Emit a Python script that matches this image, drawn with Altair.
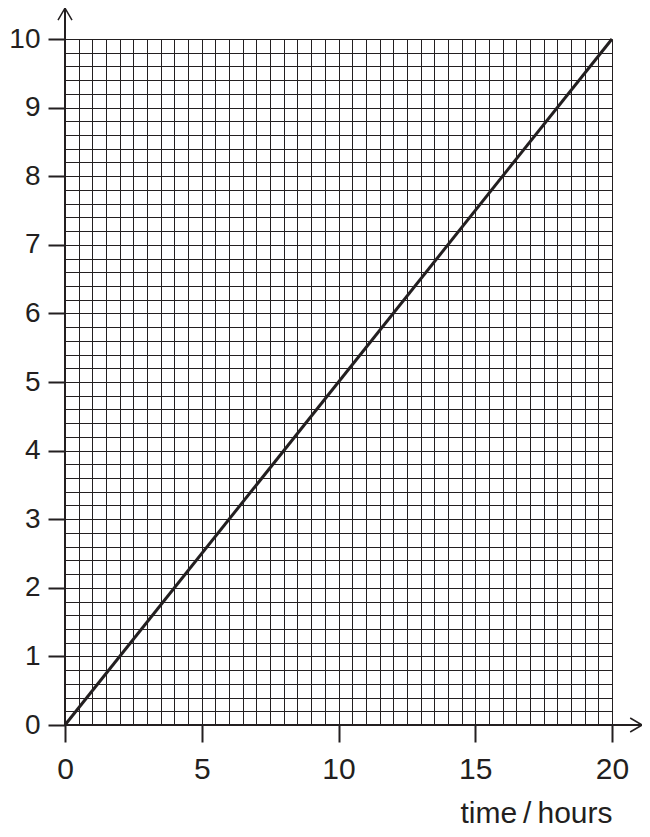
import altair as alt
import pandas as pd

# --- data ---
time_hours = [0, 20]
values = [0, 10]

x_grid = [i * 0.5 for i in range(41)]          # grid every 0.5 h
y_grid = [round(i * 0.2, 1) for i in range(51)]  # grid every 0.2

x_arrow_end = 21.1   # axis arrow tip beyond plot (data units)
y_arrow_end = 10.45

INK = "#231f20"
FONT = "Liberation Sans"

line_df = pd.DataFrame({"t": time_hours, "v": values})

x_scale = alt.Scale(domain=[0, 20], nice=False, zero=False)
y_scale = alt.Scale(domain=[0, 10], nice=False, zero=False)

x_axis = alt.Axis(
    values=x_grid,
    grid=True, gridColor=INK, gridWidth=1, gridOpacity=1,
    domain=False,
    ticks=True, tickSize=17, tickWidth=2, tickColor=INK,
    tickOpacity={"condition": {"test": "datum.value % 5 === 0", "value": 1}, "value": 0},
    labelExpr="datum.value % 5 === 0 ? '' + datum.value : ''",
    labelOverlap=False, labelFlush=False, labelBound=False,
    labelFont=FONT, labelFontSize=30, labelColor=INK, labelPadding=12,
    title="time\u2009/\u2009hours", titleFont=FONT, titleFontSize=30, titleFontWeight="normal",
    titleColor=INK, titleAnchor="end", titleAlign="right", titleBaseline="alphabetic",
    titleX=547, titleY=97,
)
y_axis = alt.Axis(
    values=y_grid,
    grid=True, gridColor=INK, gridWidth=1, gridOpacity=1,
    domain=False,
    ticks=True, tickSize=17, tickWidth=2, tickColor=INK,
    tickOpacity={"condition": {"test": "datum.value % 1 === 0", "value": 1}, "value": 0},
    labelExpr="datum.value % 1 === 0 ? '' + datum.value : ''",
    labelOverlap=False, labelFlush=False, labelBound=False,
    labelFont=FONT, labelFontSize=28, labelColor=INK, labelPadding=8,
    title=None,
)

line = alt.Chart(line_df).mark_line(color=INK, strokeWidth=3).encode(
    x=alt.X("t:Q", scale=x_scale, axis=x_axis),
    y=alt.Y("v:Q", scale=y_scale, axis=y_axis),
)

yline_df = pd.DataFrame({"x": [0], "y1": [0], "y2": [y_arrow_end]})
xline_df = pd.DataFrame({"y": [0], "x1": [0], "x2": [x_arrow_end]})

y_rule = alt.Chart(yline_df).mark_rule(color=INK, strokeWidth=2).encode(
    x=alt.X("x:Q", scale=x_scale, axis=x_axis),
    y=alt.Y("y1:Q", scale=y_scale, axis=y_axis),
    y2="y2:Q",
)
x_rule = alt.Chart(xline_df).mark_rule(color=INK, strokeWidth=2).encode(
    y=alt.Y("y:Q", scale=y_scale, axis=y_axis),
    x=alt.X("x1:Q", scale=x_scale, axis=x_axis),
    x2="x2:Q",
)

y_arrow = alt.Chart(pd.DataFrame({"x": [0], "y": [y_arrow_end]})).mark_point(
    shape="M-1,1.7L0,0L1,1.7", filled=False, stroke=INK, strokeWidth=1.5,
    size=196, opacity=1,
).encode(
    x=alt.X("x:Q", scale=x_scale, axis=x_axis),
    y=alt.Y("y:Q", scale=y_scale, axis=y_axis),
)
x_arrow = alt.Chart(pd.DataFrame({"x": [x_arrow_end], "y": [0]})).mark_point(
    shape="M-1.7,-1L0,0L-1.7,1", filled=False, stroke=INK, strokeWidth=1.5,
    size=196, opacity=1,
).encode(
    x=alt.X("x:Q", scale=x_scale, axis=x_axis),
    y=alt.Y("y:Q", scale=y_scale, axis=y_axis),
)

chart = alt.layer(line, y_rule, x_rule, y_arrow, x_arrow).properties(
    width=547, height=686,
    autosize=alt.AutoSizeParams(type="none"),
    padding={"left": 57, "top": 31, "right": 30, "bottom": 104},
).configure_view(stroke=None)

chart.save("out.html", embed_options={"renderer": "svg", "actions": False})
